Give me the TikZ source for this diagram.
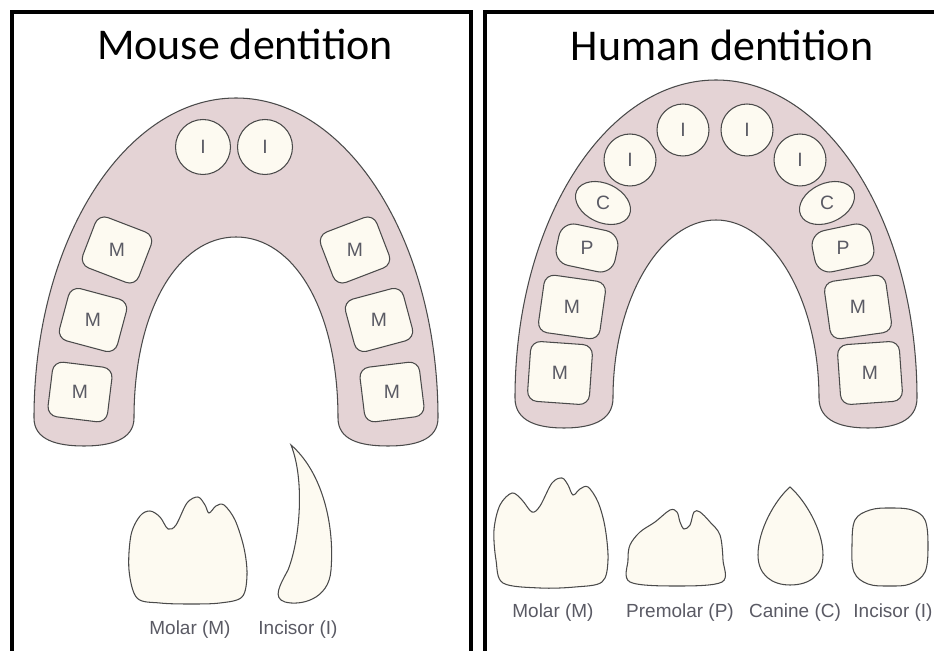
\documentclass[tikz,border=0pt]{standalone}
\usepackage{fontspec}
\newfontfamily\titlefont{Carlito}
\newfontfamily\labelfont{Liberation Sans}
\usetikzlibrary{shapes.geometric}
\definecolor{gumpink}{HTML}{E4D3D5}
\definecolor{enamel}{HTML}{FDFAF1}
\definecolor{linegray}{HTML}{4A4A4A}
\definecolor{labelgray}{HTML}{5A5A64}

\begin{document}
\begin{tikzpicture}[
    x=0.02cm, y=-0.02cm,
    panel/.style={line width=2.3pt},
    title/.style={font=\titlefont\fontsize{25}{30}\selectfont, anchor=base},
    jaw/.style={draw=linegray, line width=0.6pt, fill=gumpink},
    crown/.style={draw=linegray, line width=0.6pt, fill=enamel},
    tooth/.style={crown, text=labelgray, inner sep=0pt,
                  font=\labelfont\fontsize{11}{13}\selectfont},
    incisor/.style={tooth, circle, minimum size=#1},
    canine/.style={tooth, ellipse, minimum width=1.16cm, minimum height=0.78cm},
    molar/.style 2 args={tooth, rectangle, rounded corners=0.2cm,
                         minimum width=#1, minimum height=#2},
    caption/.style={font=\labelfont\fontsize{10.8}{13}\selectfont, text=labelgray},
  ]
  \clip (0,0) rectangle (934,651);

  % two panels, open at the bottom and at the right
  \draw[panel] (12,12) rectangle (471,700);
  \draw[panel] (485,12) rectangle (990,700);

  \node[title] (mtitle) at (245,60) {Mouse dentition};
  \node[title] (htitle) at (722,61) {Human dentition};

  % ---- mouse jaw ----
  \draw[jaw] (34,418) .. controls (34,240) and (125,98) .. (236,98)
    .. controls (347,98) and (438,240) .. (438,418)
    .. controls (438,440) and (415,446) .. (388,446)
    .. controls (360,446) and (338,440) .. (338,418)
    .. controls (338,310) and (294,237) .. (236,237)
    .. controls (178,237) and (134,310) .. (134,418)
    .. controls (134,440) and (110,446) .. (84,446)
    .. controls (57,446) and (34,440) .. (34,418) -- cycle;

  \node[incisor=1.1cm] (mi1) at (203,147) {I};
  \node[incisor=1.1cm] (mi2) at (265,147) {I};

  % letters stay upright inside the turned teeth
  \node[molar={1.2cm}{1.08cm}, rotate=-21] (mm1) at (117,250) {\rotatebox{21}{M}};
  \node[molar={1.2cm}{1.08cm}, rotate=-15] (mm2) at (93,320) {\rotatebox{15}{M}};
  \node[molar={1.2cm}{1.1cm}, rotate=-7] (mm3) at (80,392) {\rotatebox{7}{M}};
  \node[molar={1.2cm}{1.08cm}, rotate=21] (mm4) at (355,250) {\rotatebox{-21}{M}};
  \node[molar={1.2cm}{1.08cm}, rotate=15] (mm5) at (379,320) {\rotatebox{-15}{M}};
  \node[molar={1.2cm}{1.1cm}, rotate=7] (mm6) at (392,392) {\rotatebox{-7}{M}};

  % ---- human jaw ----
  \draw[jaw] (515,398) .. controls (515,222) and (605,80) .. (716,80)
    .. controls (827,80) and (917,222) .. (917,398)
    .. controls (917,422) and (893,428) .. (868,428)
    .. controls (843,428) and (819,422) .. (819,398)
    .. controls (819,300) and (772,220) .. (716,220)
    .. controls (660,220) and (613,300) .. (613,398)
    .. controls (613,422) and (589,428) .. (564,428)
    .. controls (539,428) and (515,422) .. (515,398) -- cycle;

  \node[incisor=1.04cm] (hi1) at (683,130) {I};
  \node[incisor=1.04cm] (hi2) at (747,130) {I};
  \node[incisor=1.04cm] (hi3) at (630,160) {I};
  \node[incisor=1.04cm] (hi4) at (800,160) {I};

  \node[canine, rotate=-25] (hc1) at (603,203) {\rotatebox{25}{C}};
  \node[canine, rotate=25] (hc2) at (827,203) {\rotatebox{-25}{C}};

  \node[molar={1.2cm}{0.84cm}, rounded corners=0.3cm, rotate=-12] (hp1) at (587,248) {\rotatebox{12}{P}};
  \node[molar={1.2cm}{0.84cm}, rounded corners=0.3cm, rotate=12] (hp2) at (843,248) {\rotatebox{-12}{P}};

  \node[molar={1.24cm}{1.16cm}, rotate=-8] (hm1) at (572,307) {\rotatebox{8}{M}};
  \node[molar={1.24cm}{1.2cm}, rotate=-4] (hm2) at (560,373) {\rotatebox{4}{M}};
  \node[molar={1.24cm}{1.16cm}, rotate=8] (hm3) at (858,307) {\rotatebox{-8}{M}};
  \node[molar={1.24cm}{1.2cm}, rotate=4] (hm4) at (870,373) {\rotatebox{-4}{M}};

  % ---- single teeth, mouse ----
  \draw[crown] plot[smooth cycle, tension=0.55] coordinates {
    (137,598) (129,570) (131,535) (140,516) (150,511) (160,517) (168,529)
    (176,525) (187,503) (198,497) (205,505) (209,513) (216,506) (224,505)
    (235,520) (244,548) (247,575) (242,597) (220,603) (190,604) (160,603)};
  \draw[crown] (291,445) .. controls (320,470) and (335,520) .. (331,570)
    .. controls (329,600) and (300,606) .. (285,602)
    .. controls (272,598) and (280,585) .. (288,570)
    .. controls (300,540) and (305,480) .. (291,445) -- cycle;
  \node[caption] (mmolar) at (190,630) {Molar (M)};
  \node[caption] (mincisor) at (298,630) {Incisor (I)};

  % ---- single teeth, human ----
  \draw[crown] plot[smooth cycle, tension=0.55] coordinates {
    (503,583) (496,560) (494,530) (500,505) (512,493) (522,500) (532,512)
    (540,506) (552,483) (562,478) (568,485) (573,495) (580,489) (588,487)
    (598,502) (605,527) (608,560) (602,582) (575,587) (540,588)};
  \draw[crown] plot[smooth cycle, tension=0.55] coordinates {
    (630,582) (628,560) (630,545) (640,532) (655,522) (670,510) (677,512)
    (680,522) (684,529) (690,525) (694,512) (700,512) (710,522) (720,535)
    (723,560) (722,582) (677,586)};
  \draw[crown] (790,487) .. controls (775,500) and (758,530) .. (758,555)
    .. controls (758,575) and (772,585) .. (790,585)
    .. controls (810,585) and (823,575) .. (823,555)
    .. controls (823,530) and (805,500) .. (790,487) -- cycle;
  \draw[crown] plot[smooth cycle, tension=0.6] coordinates {
    (855,520) (870,510) (890,508) (912,510) (925,520) (928,545) (925,572)
    (910,584) (890,586) (868,584) (854,572) (852,545)};
  \node[caption] (hmolar) at (553,613) {Molar (M)};
  \node[caption] (hpremolar) at (680,613) {Premolar (P)};
  \node[caption] (hcanine) at (795,613) {Canine (C)};
  \node[caption] (hincisor) at (893,613) {Incisor (I)};
\end{tikzpicture}
\end{document}
